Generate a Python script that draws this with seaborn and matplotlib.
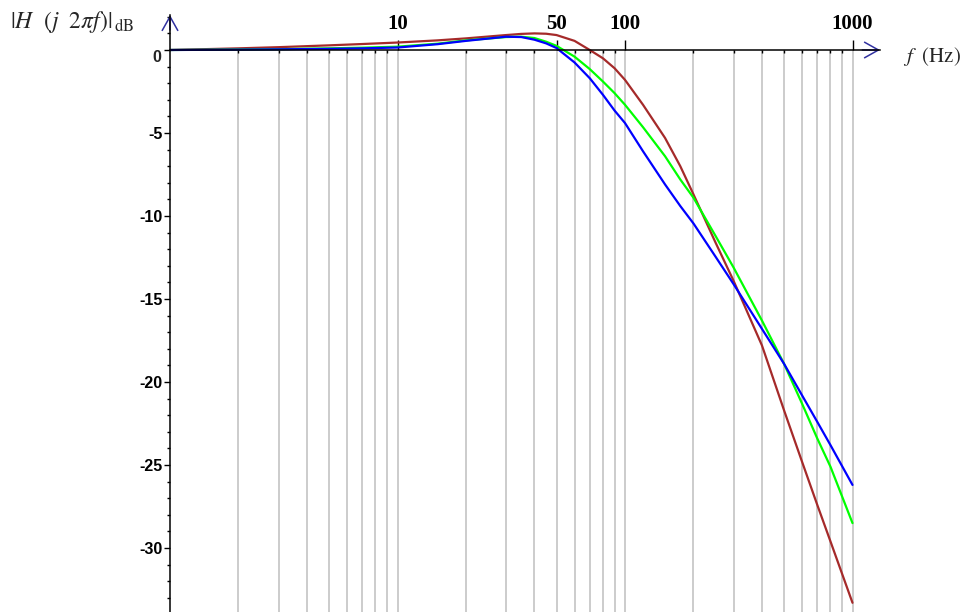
import numpy as np
import pandas as pd
import seaborn as sns
import matplotlib.pyplot as plt

# values (frequency in Hz, gain in dB)
freq = [1, 2, 3, 5, 7, 10, 15, 20, 30, 35, 40, 45, 50, 60, 70, 80, 90, 100,
        120, 150, 175, 200, 250, 300, 400, 500, 600, 700, 800, 1000]
gain_brown = [0.0, 0.1, 0.17, 0.28, 0.36, 0.45, 0.58, 0.7, 0.9, 0.97, 1.0, 0.98, 0.9, 0.55, 0.0, -0.5, -1.1, -1.8,
              -3.3, -5.3, -7.0, -8.7, -11.6, -13.9, -17.8, -21.7, -24.8, -27.4, -29.6, -33.3]
gain_green = [0.0, 0.03, 0.05, 0.1, 0.14, 0.2, 0.38, 0.58, 0.78, 0.8, 0.72, 0.5, 0.25, -0.4, -1.15, -1.9, -2.6, -3.3,
              -4.65, -6.4, -7.8, -8.9, -11.2, -13.1, -16.3, -18.9, -21.3, -23.4, -25.1, -28.5]
gain_blue = [0.0, 0.02, 0.04, 0.07, 0.1, 0.15, 0.35, 0.55, 0.8, 0.78, 0.62, 0.4, 0.12, -0.75, -1.7, -2.7, -3.65, -4.4,
             -6.1, -8.1, -9.4, -10.45, -12.45, -14.1, -16.8, -18.9, -20.8, -22.4, -23.8, -26.2]

x_major = [10, 50, 100, 1000]
x_major_labels = ['10', '50', '100', '1000']
y_major = [-30, -25, -20, -15, -10, -5, 0]
y_major_labels = ['-30', '-25', '-20', '-15', '-10', '-5', '']

curves = ['brown', 'green', 'blue']
colors = {'brown': '#a52a2a', 'green': '#00ff00', 'blue': '#0000ff'}

df = pd.concat([
    pd.DataFrame({'f': freq, 'dB': gain_brown, 'curve': 'brown'}),
    pd.DataFrame({'f': freq, 'dB': gain_green, 'curve': 'green'}),
    pd.DataFrame({'f': freq, 'dB': gain_blue, 'curve': 'blue'}),
])

sns.set_style('white')
plt.rcParams['mathtext.fontset'] = 'stix'
plt.rcParams['font.family'] = ['DejaVu Sans']

fig = plt.figure(figsize=(9.67, 6.12), dpi=100)
ax = fig.add_axes([170 / 967, 0, 710 / 967, 597 / 612])

# light vertical grid below the frequency axis
grid_f = [k * 10 ** d for d in range(3) for k in range(1, 10)][1:] + [1000]
ax.vlines(grid_f, -40, 0, color='#c8c8c8', lw=1.3, zorder=0)

sns.lineplot(data=df, x='f', y='dB', hue='curve', hue_order=curves,
             palette=colors, legend=False, ax=ax, linewidth=1.6, zorder=3)

ax.set_xscale('log')
ax.set_xlim(1, 10 ** (710 / 227.5))
ax.set_ylim(-(612 - 50) / 16.6, (50 - 15) / 16.6)
ax.set_xlabel('')
ax.set_ylabel('')

for s in ['top', 'right']:
    ax.spines[s].set_visible(False)
ax.spines['bottom'].set_position(('data', 0))
for s in ['left', 'bottom']:
    ax.spines[s].set_color('black')
    ax.spines[s].set_linewidth(1.1)
    ax.spines[s].set_zorder(4)

# x ticks: majors upward with labels above the axis, minors short downward
x_minor = [f for f in grid_f if f not in x_major]
ax.set_xticks(x_major, x_major_labels, fontfamily='Liberation Serif',
              fontweight='bold', fontsize=15)
ax.set_xticks(x_minor, minor=True)
ax.xaxis.set_minor_formatter(plt.NullFormatter())
ax.tick_params(axis='x', which='both', bottom=True, top=False, color='black')
ax.tick_params(axis='x', which='major', direction='in', length=7, width=1,
               pad=-26, labelcolor='black')
ax.tick_params(axis='x', which='minor', direction='out', length=2.5, width=1)

# y ticks
ax.set_yticks(y_major, y_major_labels, fontfamily='Liberation Sans',
              fontweight='bold', fontsize=11.5)
ax.set_yticks([v for v in range(-33, 3) if v % 5 != 0], minor=True)
ax.tick_params(axis='y', which='both', left=True, right=False, color='black')
ax.tick_params(axis='y', which='major', direction='out', length=4.5, width=1,
               pad=1, labelcolor='black')
ax.tick_params(axis='y', which='minor', direction='out', length=2.3, width=1)
ax.text(-0.012, 0, '0', transform=ax.get_yaxis_transform(), ha='right', va='top',
        fontfamily='Liberation Sans', fontweight='bold', fontsize=11.5)

# arrow heads on the axes
arrow = dict(arrowstyle='->,head_length=0.5,head_width=0.28', color='#3030a0',
             lw=1.1, shrinkA=0, shrinkB=0, mutation_scale=20)
ax.annotate('', xy=(1.0, 0), xycoords=('axes fraction', 'data'),
            xytext=(0.975, 0), textcoords=('axes fraction', 'data'),
            arrowprops=arrow, annotation_clip=False)
ax.annotate('', xy=(0, 1.0), xycoords='axes fraction',
            xytext=(0, 0.975), textcoords='axes fraction',
            arrowprops=arrow, annotation_clip=False)

# axis titles
fig.text(10 / 967, 1 - 28 / 612, r'$|H\ \ (j\ \ 2\pi f)|_{\,\mathrm{dB}}$',
         fontsize=17, ha='left', va='baseline')
fig.text(903 / 967, 1 - 62 / 612, r'$f\ \ (\mathrm{Hz})$',
         fontsize=15, ha='left', va='baseline')

fig.savefig('out.png', dpi=100)
